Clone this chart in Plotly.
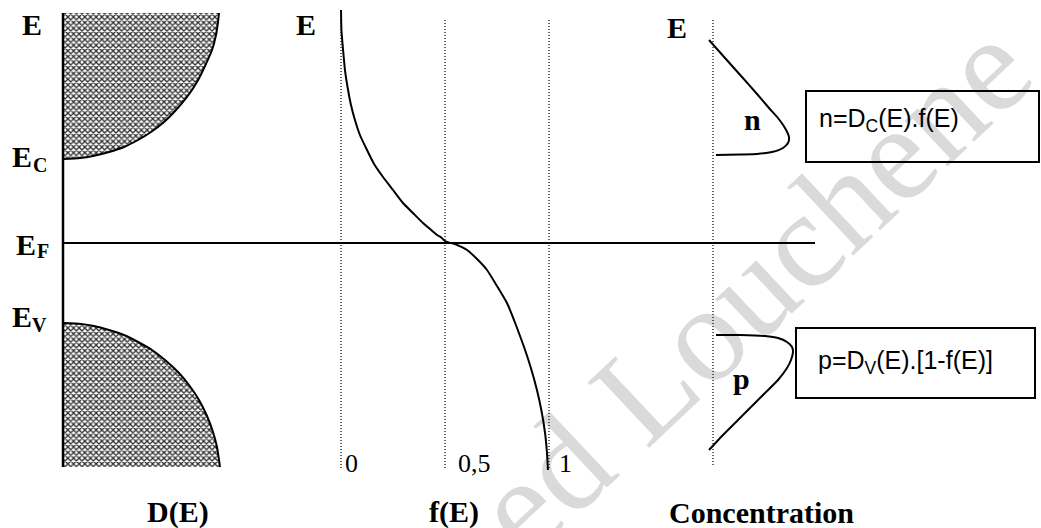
import plotly.graph_objects as go

# ---------------- data (energy in arbitrary units, E_F = 0) ----------------
E_C = 0.84
E_F = 0.0
E_V = -0.80
E_TOP = 2.30
E_BOTTOM = -2.24

# density of states D(E): conduction band
dc_D = [0.00, 0.17, 0.30, 0.46, 0.61, 0.75, 0.88, 1.01, 1.13, 1.24, 1.34, 1.42, 1.49, 1.53, 1.55, 1.56]
dc_E = [0.84, 0.85, 0.87, 0.91, 0.96, 1.03, 1.11, 1.21, 1.33, 1.46, 1.61, 1.77, 1.93, 2.08, 2.21, 2.30]
# density of states D(E): valence band
dv_D = [0.00, 0.18, 0.31, 0.46, 0.61, 0.75, 0.89, 1.02, 1.15, 1.26, 1.36, 1.44, 1.50, 1.54, 1.56, 1.57]
dv_E = [-0.80, -0.81, -0.83, -0.87, -0.92, -0.99, -1.07, -1.17, -1.29, -1.42, -1.57, -1.73, -1.89, -2.04, -2.17, -2.24]

# Fermi-Dirac occupation f(E)
f_val = [0.0, 0.002, 0.010, 0.019, 0.034, 0.048, 0.067, 0.091, 0.125, 0.159, 0.202, 0.250,
         0.298, 0.346, 0.394, 0.428, 0.462, 0.485, 0.50, 0.558, 0.606, 0.654, 0.702, 0.750,
         0.798, 0.841, 0.880, 0.913, 0.942, 0.964, 0.981, 0.990, 0.995]
f_E = [2.33, 2.13, 1.93, 1.73, 1.53, 1.38, 1.23, 1.08, 0.93, 0.79, 0.66, 0.53,
       0.40, 0.30, 0.20, 0.14, 0.08, 0.05, 0.02, -0.02, -0.07, -0.16, -0.27, -0.43,
       -0.60, -0.82, -1.04, -1.25, -1.47, -1.68, -1.90, -2.09, -2.27]
f_ticks = [0, 0.5, 1]
f_tick_labels = ["0", "0,5", "1"]

# carrier concentrations
n_c = [-0.04, 0.12, 0.29, 0.44, 0.56, 0.65, 0.72, 0.76, 0.75, 0.70, 0.59, 0.44, 0.27, 0.03]
n_E = [2.03, 1.85, 1.66, 1.49, 1.35, 1.25, 1.15, 1.06, 1.00, 0.95, 0.91, 0.89, 0.885, 0.88]
p_c = [0.03, 0.27, 0.52, 0.65, 0.74, 0.79, 0.80, 0.78, 0.74, 0.65, 0.52, 0.39, 0.25, 0.10, -0.04]
p_E = [-0.92, -0.92, -0.93, -0.95, -0.99, -1.04, -1.09, -1.17, -1.25, -1.37, -1.50, -1.63, -1.77, -1.92, -2.07]

panel_titles = ["D(E)", "f(E)", "Concentration"]
n_formula = "n=D<sub>C</sub>(E).f(E)"
p_formula = "p=D<sub>V</sub>(E).[1-f(E)]"
watermark = "ed Louchene"

# ---------------- figure ----------------
BLACK = "#000000"
SERIF = "Liberation Serif"
SANS = "Liberation Sans"
DOT = dict(color="#000000", width=1.2, dash="1px,2px")

fig = go.Figure()

pattern = dict(shape="x", size=4, solidity=0.55, fgcolor="#2e2e2e",
               bgcolor="#ffffff", fillmode="replace")

# hatched bands
fig.add_trace(go.Scatter(x=dc_D + [0], y=dc_E + [dc_E[-1]], fill="toself",
                         fillcolor="#ffffff", fillpattern=pattern,
                         mode="none", xaxis="x", yaxis="y"))
fig.add_trace(go.Scatter(x=dv_D + [0], y=dv_E + [dv_E[-1]], fill="toself",
                         fillcolor="#ffffff", fillpattern=pattern,
                         mode="none", xaxis="x", yaxis="y"))
# band edges
for xs, ys in [(dc_D, dc_E), (dv_D, dv_E)]:
    fig.add_trace(go.Scatter(x=xs, y=ys, mode="lines",
                             line=dict(color=BLACK, width=2, shape="spline", smoothing=0.5),
                             xaxis="x", yaxis="y"))
# energy axis of D(E)
fig.add_trace(go.Scatter(x=[0, 0], y=[E_BOTTOM, E_TOP], mode="lines",
                         line=dict(color=BLACK, width=2.5), xaxis="x", yaxis="y"))
# Fermi level
fig.add_trace(go.Scatter(x=[0, 7.52], y=[E_F, E_F], mode="lines",
                         line=dict(color=BLACK, width=2), xaxis="x", yaxis="y"))

# f(E) dotted guides
for t in f_ticks:
    fig.add_trace(go.Scatter(x=[t, t], y=[2.23, -2.27], mode="lines", line=DOT,
                             xaxis="x2", yaxis="y"))
fig.add_trace(go.Scatter(x=f_val, y=f_E, mode="lines",
                         line=dict(color=BLACK, width=2, shape="spline", smoothing=0.4),
                         xaxis="x2", yaxis="y"))

# concentration
fig.add_trace(go.Scatter(x=[0, 0], y=[2.23, -2.22], mode="lines", line=DOT,
                         xaxis="x3", yaxis="y"))
for xs, ys in [(n_c, n_E), (p_c, p_E)]:
    fig.add_trace(go.Scatter(x=xs, y=ys, mode="lines",
                             line=dict(color=BLACK, width=2, shape="spline", smoothing=0.5),
                             xaxis="x3", yaxis="y"))

# formula boxes
fig.add_shape(type="rect", xref="x3", yref="y", x0=0.93, x1=3.26, y0=0.81, y1=1.52,
              line=dict(color=BLACK, width=2), fillcolor="rgba(0,0,0,0)")
fig.add_shape(type="rect", xref="x3", yref="y", x0=0.83, x1=3.22, y0=-1.55, y1=-0.85,
              line=dict(color=BLACK, width=2), fillcolor="rgba(0,0,0,0)")

# watermark (below traces)
fig.add_shape(type="line", xref="paper", yref="paper",
              x0=508 / 1041, y0=1 - 497 / 528, x1=975 / 1041, y1=1 - 57 / 528,
              line=dict(width=0, color="rgba(0,0,0,0)"), layer="below",
              label=dict(text=watermark, textposition="middle", yanchor="middle",
                         font=dict(family=SERIF, size=137, color="#dadada")))

bold = dict(family=SERIF, size=30, color=BLACK, weight="bold")
bold_sub = dict(family=SERIF, size=20, color=BLACK, weight="bold")
reg = dict(family=SERIF, size=26, color=BLACK)
sans = dict(family=SANS, size=25, color=BLACK)

ann = []
def A(text, x, y, xref, font, xanchor="center"):
    ann.append(dict(text=text, x=x, y=y, xref=xref, yref="y", showarrow=False,
                    font=font, xanchor=xanchor, yanchor="middle"))

A("E", -0.31, 2.19, "x", bold)
A("E", -0.170, 2.19, "x2", bold)
A("E", -0.36, 2.16, "x3", bold)
# band-level labels with hand-placed subscripts
A("E", -0.41, 0.87, "x", bold)
A("C", -0.235, 0.785, "x", bold_sub)
A("E", -0.37, -0.01, "x", bold)
A("F", -0.20, -0.08, "x", bold_sub)
A("E", -0.41, -0.73, "x", bold)
A("V", -0.235, -0.815, "x", bold_sub)
for t, lab, dx in zip(f_ticks, f_tick_labels, [0.05, 0.14, 0.08]):
    A(lab, t + dx, -2.20, "x2", reg)
A(panel_titles[0], 1.15, -2.69, "x", bold)
A(panel_titles[1], 0.545, -2.69, "x2", bold)
A(panel_titles[2], 0.48, -2.69, "x3", bold)
A("n", 0.39, 1.24, "x3", bold)
A("p", 0.28, -1.35, "x3", bold)
A(n_formula, 1.04, 1.23, "x3", sans, xanchor="left")
A(p_formula, 1.03, -1.19, "x3", sans, xanchor="left")

hidden = dict(visible=False, fixedrange=True)
fig.update_layout(
    width=1041, height=528,
    margin=dict(l=0, r=0, t=0, b=0),
    paper_bgcolor="white", plot_bgcolor="white",
    showlegend=False,
    xaxis=dict(range=[-0.63, 9.78], domain=[0, 1], **hidden),
    xaxis2=dict(range=[-341 / 208, (1041 - 341) / 208], overlaying="x", **hidden),
    xaxis3=dict(range=[-7.13, 3.28], overlaying="x", **hidden),
    yaxis=dict(range=[-2.85, 2.43], domain=[0, 1], **hidden),
    annotations=ann,
)

fig.write_html("out.html", config={"displayModeBar": False},
               post_script="document.body.style.margin='0';")
